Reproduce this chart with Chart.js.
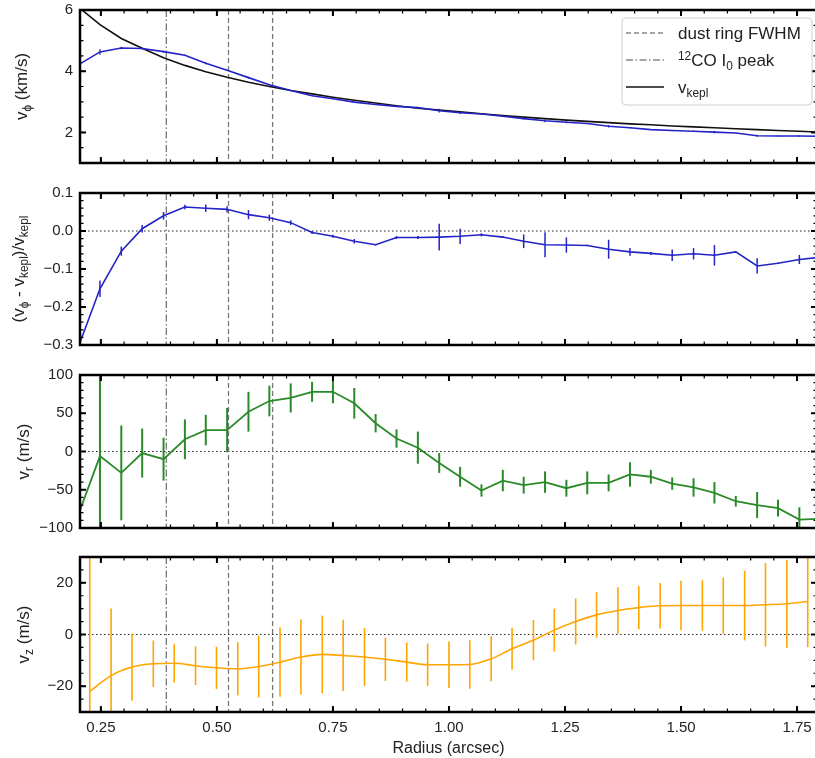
<!DOCTYPE html>
<html>
<head>
<meta charset="utf-8">
<script src="https://cdn.jsdelivr.net/npm/chart.js@4.4.1/dist/chart.umd.min.js"></script>
<style>
  body { margin: 0; background: #fff; }
  #wrap { position: relative; width: 815px; height: 758px; overflow: hidden; }
  #wrap canvas { position: absolute; left: 0; }
</style>
</head>
<body>
<div id="wrap">
  <canvas id="c1" width="820" height="180" style="top:0"></canvas>
  <canvas id="c2" width="820" height="180" style="top:180px"></canvas>
  <canvas id="c3" width="820" height="180" style="top:360px"></canvas>
  <canvas id="c4" width="820" height="218" style="top:540px"></canvas>
</div>
<script>
// radius grid (arcsec) for v_phi, residual and v_r
var radius = [0.203,0.248,0.294,0.339,0.385,0.431,0.476,0.522,0.568,0.613,0.659,0.705,0.750,0.796,0.842,0.887,0.933,0.979,1.024,1.070,1.116,1.161,1.207,1.253,1.298,1.344,1.390,1.435,1.481,1.527,1.572,1.618,1.664,1.709,1.755,1.801];
var vKepl = [6.08,5.52,5.07,4.75,4.44,4.19,3.98,3.80,3.64,3.50,3.37,3.26,3.15,3.05,2.96,2.87,2.79,2.73,2.67,2.61,2.55,2.50,2.45,2.40,2.36,2.32,2.28,2.25,2.21,2.18,2.15,2.12,2.09,2.06,2.04,2.01];
var vPhi = [4.22,4.63,4.76,4.74,4.64,4.52,4.26,4.03,3.79,3.56,3.37,3.20,3.10,2.99,2.91,2.85,2.81,2.71,2.64,2.60,2.53,2.45,2.38,2.33,2.29,2.20,2.15,2.09,2.06,2.04,2.01,1.98,1.89,1.88,1.88,1.87];
var vPhiErr = [0,0.09,0.04,0.03,0.03,0.02,0.03,0.02,0.03,0.02,0.02,0.01,0.01,0.01,0.01,0.01,0.01,0.06,0.04,0.01,0.01,0.03,0.05,0.03,0.01,0.04,0.02,0.01,0.02,0.02,0.04,0.01,0.03,0.01,0.02,0.01];
var dvRel = [-0.300,-0.152,-0.053,0.006,0.040,0.063,0.060,0.057,0.043,0.035,0.022,-0.004,-0.014,-0.027,-0.036,-0.017,-0.017,-0.016,-0.014,-0.010,-0.016,-0.027,-0.036,-0.037,-0.038,-0.048,-0.055,-0.059,-0.064,-0.060,-0.064,-0.055,-0.092,-0.085,-0.075,-0.069];
var dvRelErr = [0,0.022,0.012,0.010,0.010,0.006,0.010,0.008,0.012,0.008,0.006,0.004,0.004,0.006,0.002,0.004,0.004,0.035,0.020,0.004,0.002,0.018,0.033,0.020,0.002,0.025,0.010,0.004,0.015,0.015,0.027,0.002,0.020,0.002,0.012,0.004];
var vR = [-80,-6,-28,-2,-10,16,28,28,52,66,70,78,78,63,37,17,5,-15,-33,-51,-38,-44,-40,-48,-41,-41,-30,-33,-42,-47,-54,-65,-70,-74,-89,-88];
var vRErr = [0,110,62,32,28,26,20,29,26,20,19,13,15,20,12,12,21,13,13,8,14,11,14,11,15,11,16,9,8,12,14,7,17,11,16,0];
// v_z has its own radius grid
var radiusZ = [0.226,0.272,0.317,0.363,0.408,0.454,0.499,0.545,0.590,0.636,0.681,0.727,0.772,0.818,0.863,0.909,0.954,1.000,1.045,1.091,1.136,1.182,1.227,1.273,1.318,1.364,1.409,1.455,1.500,1.546,1.591,1.637,1.682,1.728,1.773];
var vZ = [-22,-15.9,-12.6,-11.3,-11.1,-12.1,-12.9,-13.3,-12.4,-10.7,-8.7,-7.7,-8.1,-8.7,-9.6,-10.7,-11.7,-11.7,-11.6,-9.4,-5.5,-2.2,1.7,5.0,7.6,9.3,10.4,11.1,11.2,11.2,11.2,11.2,11.5,11.9,12.8];
var vZErr = [60,26,13,9,7.5,7.5,8.2,10.3,12,13.4,14.5,15,13.8,11.2,8.4,7.6,8.2,9,9.4,8.7,8.1,7.8,8.3,8.9,8.8,9,8.4,8.8,9.6,9.8,10.9,13.5,16.2,17,17.7];
// reference radii
var dustRing = [0.525, 0.620];
var coPeak = [0.391];
// tick labels
var xTicks = [0.25, 0.50, 0.75, 1.00, 1.25, 1.50, 1.75];
var yTicks1 = [2, 4, 6];
var yTicks2 = [-0.3, -0.2, -0.1, 0.0, 0.1];
var yTicks3 = [-100, -50, 0, 50, 100];
var yTicks4 = [-20, 0, 20];

var FONT = '"Liberation Sans", Arial, Helvetica, sans-serif';
var TXT = '#222';
var XMIN = 0.205, XMAX = 1.793;
var DASH = [5, 3];
var DASHDOT = [7, 2.5, 1.5, 2.5];

function pts(xs, ys) {
  return xs.map(function(x, i) { return { x: x, y: ys[i] }; });
}
function minus(s) { return String(s).replace('-', '\u2212'); }

function richDraw(ctx, parts, x, y, size, doDraw) {
  var cx = x;
  parts.forEach(function(p) {
    var s = p[1] ? size * 0.7 : size;
    ctx.font = s + 'px ' + FONT;
    var dy = p[1] === 1 ? size * 0.25 : (p[1] === 2 ? -size * 0.35 : 0);
    if (doDraw) ctx.fillText(p[0], cx, y + dy);
    cx += ctx.measureText(p[0]).width;
  });
  return cx - x;
}

var panelPlugin = {
  id: 'panel',
  beforeDatasetsDraw: function(chart, args, o) {
    var ctx = chart.ctx, a = chart.chartArea, xs = chart.scales.x, ys = chart.scales.y;
    ctx.save();
    ctx.beginPath(); ctx.rect(a.left, a.top, a.width, a.height); ctx.clip();
    if (o.zero) {
      var y0 = ys.getPixelForValue(0);
      ctx.strokeStyle = '#222'; ctx.lineWidth = 1; ctx.setLineDash([1.5, 2.5]);
      ctx.beginPath(); ctx.moveTo(a.left, y0); ctx.lineTo(a.right, y0); ctx.stroke();
    }
    ctx.strokeStyle = '#777'; ctx.lineWidth = 1.3;
    ctx.setLineDash(DASH);
    dustRing.forEach(function(r) {
      var px = xs.getPixelForValue(r);
      ctx.beginPath(); ctx.moveTo(px, a.top); ctx.lineTo(px, a.bottom); ctx.stroke();
    });
    ctx.setLineDash(DASHDOT);
    coPeak.forEach(function(r) {
      var px = xs.getPixelForValue(r);
      ctx.beginPath(); ctx.moveTo(px, a.top); ctx.lineTo(px, a.bottom); ctx.stroke();
    });
    ctx.restore();
  },
  afterDatasetsDraw: function(chart, args, o) {
    var ctx = chart.ctx, a = chart.chartArea, xs = chart.scales.x, ys = chart.scales.y;
    // error bars
    ctx.save();
    ctx.beginPath(); ctx.rect(a.left, a.top, a.width, a.height); ctx.clip();
    chart.data.datasets.forEach(function(ds) {
      if (!ds.errors) return;
      ctx.strokeStyle = ds.borderColor; ctx.lineWidth = ds.errWidth || 1.5;
      ds.data.forEach(function(p, i) {
        var e = ds.errors[i];
        if (!e) return;
        var px = xs.getPixelForValue(p.x);
        ctx.beginPath();
        ctx.moveTo(px, ys.getPixelForValue(p.y - e));
        ctx.lineTo(px, ys.getPixelForValue(p.y + e));
        ctx.stroke();
      });
    });
    ctx.restore();

    // inward ticks on all four sides
    ctx.save();
    ctx.strokeStyle = '#000';
    function tickX(v, len, w) {
      var px = xs.getPixelForValue(v);
      ctx.lineWidth = w;
      ctx.beginPath();
      ctx.moveTo(px, a.bottom); ctx.lineTo(px, a.bottom - len);
      ctx.moveTo(px, a.top); ctx.lineTo(px, a.top + len);
      ctx.stroke();
    }
    function tickY(v, len, w) {
      var py = ys.getPixelForValue(v);
      ctx.lineWidth = w;
      ctx.beginPath();
      ctx.moveTo(a.left, py); ctx.lineTo(a.left + len, py);
      ctx.moveTo(a.right, py); ctx.lineTo(a.right - len, py);
      ctx.stroke();
    }
    var k;
    for (k = Math.ceil(xs.min / 0.05); k * 0.05 <= xs.max; k++) tickX(k * 0.05, 3.5, 1.2);
    xTicks.forEach(function(v) { tickX(v, 6, 2); });
    for (k = Math.ceil(ys.min / o.yMinor - 1e-9); k * o.yMinor <= ys.max + 1e-9; k++) tickY(k * o.yMinor, 3.5, 1.2);
    o.yTicks.forEach(function(v) { tickY(v, 6, 2); });
    ctx.lineWidth = 2.5;
    ctx.strokeRect(a.left, a.top, a.width, a.height);
    ctx.restore();

    // y axis title with sub/superscripts
    ctx.save();
    ctx.fillStyle = TXT;
    ctx.textBaseline = 'alphabetic';
    var w = richDraw(ctx, o.title, 0, 0, 17, false);
    ctx.translate(o.titleX, (a.top + a.bottom) / 2);
    ctx.rotate(-Math.PI / 2);
    richDraw(ctx, o.title, -w / 2, 6, 17, true);
    ctx.restore();

    // legend box
    if (o.legend) {
      var L = o.legend;
      ctx.save();
      ctx.fillStyle = 'rgba(255,255,255,0.85)';
      ctx.strokeStyle = '#d0d0d0'; ctx.lineWidth = 1;
      ctx.beginPath();
      ctx.roundRect(L.x, L.y, L.w, L.h, 4);
      ctx.fill(); ctx.stroke();
      L.items.forEach(function(it, i) {
        var yy = L.y + 15 + i * 27;
        ctx.strokeStyle = it.color; ctx.lineWidth = it.width;
        ctx.setLineDash(it.dash);
        ctx.beginPath(); ctx.moveTo(L.x + 4, yy); ctx.lineTo(L.x + 42, yy); ctx.stroke();
        ctx.fillStyle = TXT;
        ctx.textBaseline = 'alphabetic';
        richDraw(ctx, it.text, L.x + 56, yy + 6, 17, true);
      });
      ctx.restore();
    }
  }
};

function makePanel(id, datasets, yMin, yMax, yTicks, dec, pad, extra, showX) {
  var xsc = {
    type: 'linear', min: XMIN, max: XMAX, display: showX,
    grid: { display: false, drawTicks: false }, border: { display: false },
    afterBuildTicks: function(s) { s.ticks = xTicks.map(function(v) { return { value: v }; }); },
    ticks: {
      font: { family: FONT, size: 15 }, color: TXT, padding: 7, maxRotation: 0,
      callback: function(v) { return v.toFixed(2); }
    },
    title: { display: true, text: 'Radius (arcsec)', font: { family: FONT, size: 16 }, color: TXT, padding: { top: 3, bottom: 0 } },
    afterFit: function(s) {
      s.paddingLeft = 0; s.paddingRight = 0;
      if (showX) s.height = 46;
    }
  };
  return new Chart(document.getElementById(id), {
    type: 'line',
    data: { datasets: datasets },
    plugins: [panelPlugin],
    options: {
      responsive: false, animation: false,
      layout: { padding: pad },
      plugins: { legend: { display: false }, tooltip: { enabled: false }, panel: extra },
      elements: { point: { radius: 0 } },
      scales: {
        x: xsc,
        y: {
          type: 'linear', min: yMin, max: yMax,
          grid: { display: false, drawTicks: false }, border: { display: false },
          afterBuildTicks: function(s) { s.ticks = yTicks.map(function(v) { return { value: v }; }); },
          afterFit: function(s) { s.width = 80; s.paddingTop = 0; s.paddingBottom = 0; },
          ticks: {
            font: { family: FONT, size: 15 }, color: TXT, padding: 7,
            callback: function(v) { return minus(v.toFixed(dec)); }
          }
        }
      }
    }
  });
}

makePanel('c1', [
  { data: pts(radius, vPhi), errors: vPhiErr, borderColor: '#2323c8', borderWidth: 1.6, tension: 0, errWidth: 1.3 },
  { data: pts(radius, vKepl), borderColor: '#111', borderWidth: 1.6, tension: 0 }
], 1, 6, yTicks1, 0, { top: 10, bottom: 17, left: 0, right: 3 }, {
  zero: false, yMinor: 0.5, yTicks: yTicks1, titleX: 21,
  title: [['v', 0], ['\u03d5', 1], [' (km/s)', 0]],
  legend: {
    x: 622, y: 18, w: 190, h: 87,
    items: [
      { color: '#888', width: 1.3, dash: DASH, text: [['dust ring FWHM', 0]] },
      { color: '#888', width: 1.3, dash: DASHDOT, text: [['12', 2], ['CO I', 0], ['0', 1], [' peak', 0]] },
      { color: '#111', width: 1.6, dash: [], text: [['v', 0], ['kepl', 1]] }
    ]
  }
}, false);

makePanel('c2', [
  { data: pts(radius, dvRel), errors: dvRelErr, borderColor: '#2323c8', borderWidth: 1.6, tension: 0, errWidth: 1.5 }
], -0.3, 0.1, yTicks2, 1, { top: 13, bottom: 15, left: 0, right: 3 }, {
  zero: true, yMinor: 0.02, yTicks: yTicks2, titleX: 18,
  title: [['(v', 0], ['\u03d5', 1], [' - v', 0], ['kepl', 1], [')/v', 0], ['kepl', 1]]
}, false);

makePanel('c3', [
  { data: pts(radius, vR), errors: vRErr, borderColor: '#2a8a2a', borderWidth: 1.8, tension: 0, errWidth: 2 }
], -100, 100, yTicks3, 0, { top: 15, bottom: 12, left: 0, right: 3 }, {
  zero: true, yMinor: 10, yTicks: yTicks3, titleX: 23,
  title: [['v', 0], ['r', 1], [' (m/s)', 0]]
}, false);

makePanel('c4', [
  { data: pts(radiusZ, vZ), errors: vZErr, borderColor: '#ffa500', borderWidth: 1.6, cubicInterpolationMode: 'monotone', errWidth: 1.6 }
], -30, 30, yTicks4, 0, { top: 17, bottom: 0, left: 0, right: 3 }, {
  zero: true, yMinor: 5, yTicks: yTicks4, titleX: 23,
  title: [['v', 0], ['z', 1], [' (m/s)', 0]]
}, true);
</script>
</body>
</html>
